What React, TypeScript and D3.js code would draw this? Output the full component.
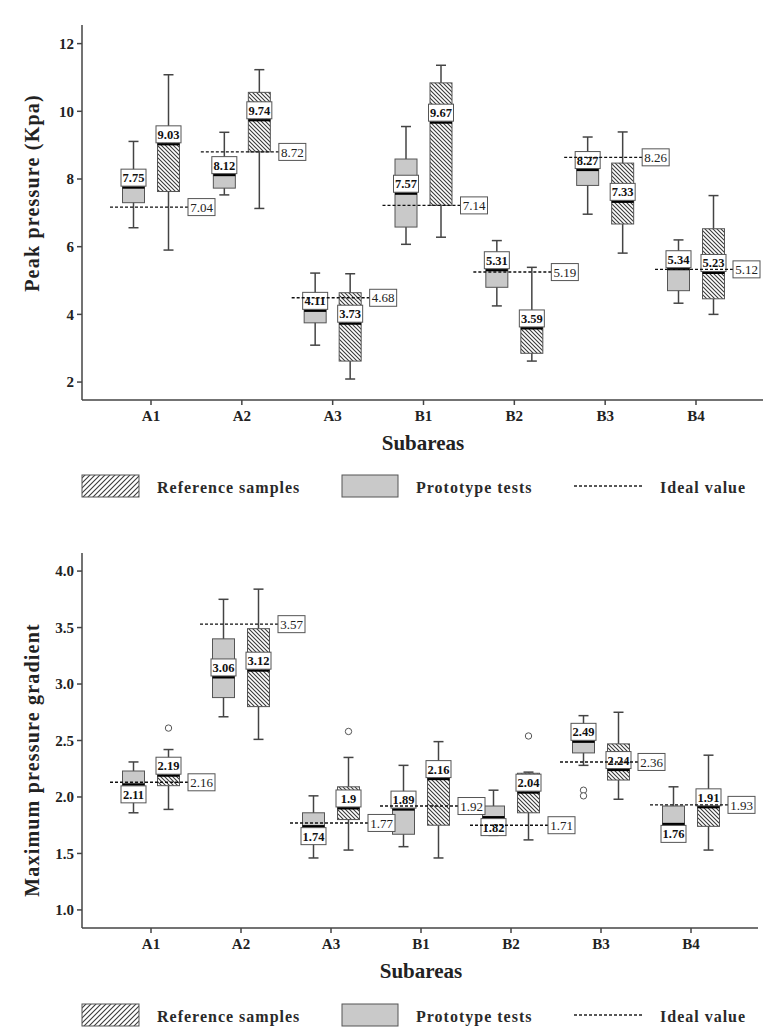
import React from "react";
import * as d3 from "d3";

const FONT = "'Liberation Serif', 'Times New Roman', Times, serif";

const categories = ["A1", "A2", "A3", "B1", "B2", "B3", "B4"];

// ---- Peak pressure (Kpa) ----
// Prototype tests (grey boxes)
const peakProtoMin = [6.56, 7.53, 3.09, 6.07, 4.25, 6.96, 4.33];
const peakProtoQ1 = [7.3, 7.73, 3.75, 6.58, 4.8, 7.81, 4.7];
const peakProtoMedian = [7.75, 8.12, 4.11, 7.57, 5.31, 8.27, 5.34];
const peakProtoQ3 = [8.25, 8.55, 4.55, 8.59, 5.7, 8.75, 5.75];
const peakProtoMax = [9.11, 9.38, 5.22, 9.55, 6.18, 9.24, 6.2];
const peakProtoOutliers: number[][] = [[], [], [], [], [], [], []];
const peakProtoLabelPos = ["above", "above", "above", "above", "above", "above", "above"];
// Reference samples (hatched boxes)
const peakRefMin = [5.9, 7.13, 2.09, 6.28, 2.62, 5.81, 4.0];
const peakRefQ1 = [7.63, 8.8, 2.62, 7.22, 2.85, 6.67, 4.46];
const peakRefMedian = [9.03, 9.74, 3.73, 9.67, 3.59, 7.33, 5.23];
const peakRefQ3 = [9.5, 10.56, 4.64, 10.84, 4.1, 8.47, 6.53];
const peakRefMax = [11.08, 11.23, 5.2, 11.36, 5.39, 9.39, 7.51];
const peakRefOutliers: number[][] = [[], [], [], [], [], [], []];
const peakRefLabelPos = ["above", "above", "above", "above", "above", "above", "above"];
// Ideal value
const peakIdealLine = [7.17, 8.8, 4.49, 7.22, 5.25, 8.64, 5.33];
const peakIdealLabel = ["7.04", "8.72", "4.68", "7.14", "5.19", "8.26", "5.12"];
const peakTicks = [2, 4, 6, 8, 10, 12];

// ---- Maximum pressure gradient ----
const gradProtoMin = [1.86, 2.71, 1.46, 1.56, 1.66, 2.28, 1.66];
const gradProtoQ1 = [2.02, 2.88, 1.68, 1.67, 1.67, 2.39, 1.7];
const gradProtoMedian = [2.11, 3.06, 1.74, 1.89, 1.82, 2.49, 1.76];
const gradProtoQ3 = [2.23, 3.4, 1.86, 2.02, 1.92, 2.6, 1.92];
const gradProtoMax = [2.31, 3.75, 2.01, 2.28, 2.06, 2.72, 2.09];
const gradProtoOutliers: number[][] = [[], [], [], [], [], [2.06, 2.01], []];
const gradProtoLabelPos = ["below", "above", "below", "above", "below", "above", "below"];
const gradRefMin = [1.89, 2.51, 1.53, 1.46, 1.62, 1.98, 1.53];
const gradRefQ1 = [2.1, 2.8, 1.8, 1.75, 1.86, 2.15, 1.74];
const gradRefMedian = [2.19, 3.12, 1.9, 2.16, 2.04, 2.24, 1.91];
const gradRefQ3 = [2.3, 3.49, 2.09, 2.3, 2.21, 2.47, 2.02];
const gradRefMax = [2.42, 3.84, 2.35, 2.49, 2.22, 2.75, 2.37];
const gradRefOutliers: number[][] = [[2.61], [], [2.58], [], [2.54], [], []];
const gradRefLabelPos = ["above", "above", "above", "above", "above", "above", "above"];
const gradIdealLine = [2.13, 3.53, 1.77, 1.92, 1.75, 2.31, 1.93];
const gradIdealLabel = ["2.16", "3.57", "1.77", "1.92", "1.71", "2.36", "1.93"];
const gradTicks = [1.0, 1.5, 2.0, 2.5, 3.0, 3.5, 4.0];

const seriesKeys = ["proto", "ref"];
const legendLabels = ["Reference samples", "Prototype tests", "Ideal value"];
const xTitle = "Subareas";

type Series = {
  min: number[];
  q1: number[];
  med: number[];
  q3: number[];
  max: number[];
  out: number[][];
  labelPos: string[];
};

type PanelProps = {
  proto: Series;
  ref: Series;
  idealLine: number[];
  idealLabel: string[];
  ticks: number[];
  tickFmt: (v: number) => string;
  yDomain: [number, number];
  yRange: [number, number];
  xRange: [number, number];
  xEnd: number;
  yTitle: string;
  yTitleY: number;
  xTitleX: number;
  tickLabelY: number;
  xTitleY: number;
  legendY: number;
};

const AXIS = "#444";
const BOX_STROKE = "#555";
const GREY = "#c9c9c9";
const X0 = 82;

function Legend({ y }: { y: number }) {
  const h = 22;
  return (
    <g>
      <rect x={82} y={y} width={57} height={h} fill="url(#hatchLegend)" stroke={BOX_STROKE} strokeWidth={1} />
      <text x={157} y={y + 17.5} fontFamily={FONT} fontWeight="bold" fontSize={16} letterSpacing={1} fill="#2a2a2a">
        {legendLabels[0]}
      </text>
      <rect x={342} y={y} width={56} height={h} fill={GREY} stroke={BOX_STROKE} strokeWidth={1} />
      <text x={416} y={y + 17.5} fontFamily={FONT} fontWeight="bold" fontSize={16} letterSpacing={1} fill="#2a2a2a">
        {legendLabels[1]}
      </text>
      <line x1={574} x2={643} y1={y + h / 2} y2={y + h / 2} stroke="#222" strokeWidth={1.3} strokeDasharray="3,2" />
      <text x={660} y={y + 17.5} fontFamily={FONT} fontWeight="bold" fontSize={16} letterSpacing={1} fill="#2a2a2a">
        {legendLabels[2]}
      </text>
    </g>
  );
}

function Panel(p: PanelProps) {
  const y = d3.scaleLinear().domain(p.yDomain).range(p.yRange);
  const x = d3.scalePoint<string>().domain(categories).range(p.xRange);
  const sub = d3.scalePoint<string>().domain(seriesKeys).range([-17.5, 17.5]);
  const bw = 22;
  const cap = 10;
  const lw = 25;
  const lh = 17;
  const bottom = p.yRange[0];
  const top = p.yRange[1];

  const seriesList: { key: string; s: Series; fill: string }[] = [
    { key: "proto", s: p.proto, fill: GREY },
    { key: "ref", s: p.ref, fill: "url(#hatchBox)" },
  ];

  return (
    <g>
      {/* axes */}
      <line x1={X0} x2={X0} y1={top} y2={bottom} stroke={AXIS} strokeWidth={1.5} />
      <line x1={X0} x2={p.xEnd} y1={bottom} y2={bottom} stroke={AXIS} strokeWidth={1.5} />
      {p.ticks.map((t) => (
        <g key={"yt" + t}>
          <line x1={X0 - 5} x2={X0} y1={y(t)} y2={y(t)} stroke={AXIS} strokeWidth={1.5} />
          <text
            x={X0 - 8}
            y={y(t)}
            dy="0.35em"
            textAnchor="end"
            fontFamily={FONT}
            fontWeight="bold"
            fontSize={15}
            fill="#222"
          >
            {p.tickFmt(t)}
          </text>
        </g>
      ))}
      {categories.map((c) => (
        <g key={"xt" + c}>
          <line x1={x(c)} x2={x(c)} y1={bottom} y2={bottom + 5} stroke={AXIS} strokeWidth={1.5} />
          <text x={x(c)} y={p.tickLabelY} textAnchor="middle" fontFamily={FONT} fontWeight="bold" fontSize={15} fill="#222">
            {c}
          </text>
        </g>
      ))}
      <text
        transform={`translate(32,${p.yTitleY}) rotate(-90)`}
        textAnchor="middle"
        dy="0.35em"
        fontFamily={FONT}
        fontWeight="bold"
        fontSize={20}
        letterSpacing={1.2}
        fill="#222"
      >
        {p.yTitle}
      </text>
      <text x={p.xTitleX} y={p.xTitleY} textAnchor="middle" fontFamily={FONT} fontWeight="bold" fontSize={21} fill="#222">
        {xTitle}
      </text>

      {/* boxes */}
      {categories.map((c, i) =>
        seriesList.map(({ key, s, fill }) => {
          const cx = (x(c) as number) + (sub(key) as number);
          return (
            <g key={"b" + c + key}>
              <line x1={cx} x2={cx} y1={y(s.max[i])} y2={y(s.min[i])} stroke={AXIS} strokeWidth={1.5} />
              <line x1={cx - cap / 2} x2={cx + cap / 2} y1={y(s.max[i])} y2={y(s.max[i])} stroke={AXIS} strokeWidth={1.5} />
              <line x1={cx - cap / 2} x2={cx + cap / 2} y1={y(s.min[i])} y2={y(s.min[i])} stroke={AXIS} strokeWidth={1.5} />
              <rect
                x={cx - bw / 2}
                y={y(s.q3[i])}
                width={bw}
                height={y(s.q1[i]) - y(s.q3[i])}
                fill={fill}
                stroke={BOX_STROKE}
                strokeWidth={1}
              />
              <line x1={cx - bw / 2} x2={cx + bw / 2} y1={y(s.med[i])} y2={y(s.med[i])} stroke="#000" strokeWidth={2.5} />
              {s.out[i].map((o, k) => (
                <circle key={k} cx={cx} cy={y(o)} r={3.2} fill="white" stroke="#555" strokeWidth={1} />
              ))}
            </g>
          );
        })
      )}

      {/* median labels */}
      {categories.map((c, i) =>
        seriesList.map(({ key, s }) => {
          const cx = (x(c) as number) + (sub(key) as number);
          const my = y(s.med[i]);
          const ry = s.labelPos[i] === "above" ? my - 1.3 - lh : my + 1.3;
          return (
            <g key={"l" + c + key}>
              <rect x={cx - lw / 2} y={ry} width={lw} height={lh} fill="white" stroke={BOX_STROKE} strokeWidth={1} />
              <text
                x={cx}
                y={ry + lh / 2}
                dy="0.36em"
                textAnchor="middle"
                fontFamily={FONT}
                fontWeight="bold"
                fontSize={12.5}
                fill="#111"
              >
                {d3.format("")(s.med[i])}
              </text>
            </g>
          );
        })
      )}

      {/* ideal values */}
      {categories.map((c, i) => {
        const cx = x(c) as number;
        const iy = y(p.idealLine[i]);
        const x1 = cx - 41;
        const x2 = cx + 37;
        return (
          <g key={"i" + c}>
            <line x1={x1} x2={x2} y1={iy} y2={iy} stroke="#111" strokeWidth={1.4} strokeDasharray="3,2" />
            <rect x={x2} y={iy - lh / 2} width={27} height={lh} fill="white" stroke={BOX_STROKE} strokeWidth={1} />
            <text x={x2 + 13.5} y={iy} dy="0.36em" textAnchor="middle" fontFamily={FONT} fontSize={13} fill="#222">
              {p.idealLabel[i]}
            </text>
          </g>
        );
      })}

      <Legend y={p.legendY} />
    </g>
  );
}

export default function App() {
  const fmtInt = d3.format("d");
  const fmt1 = d3.format(".1f");
  return (
    <div style={{ position: "absolute", left: 0, top: 0 }}>
      <svg width={778} height={1034} style={{ display: "block", background: "white" }}>
        <defs>
          <pattern id="hatchBox" patternUnits="userSpaceOnUse" width={4} height={4}>
            <rect width={4} height={4} fill="white" />
            <path d="M-1,-1 L5,5 M-1,3 L1,5 M3,-1 L5,1" stroke="#3a3a3a" strokeWidth={1.1} />
          </pattern>
          <pattern id="hatchLegend" patternUnits="userSpaceOnUse" width={5} height={5}>
            <rect width={5} height={5} fill="white" />
            <path d="M-1,6 L6,-1 M-1,1 L1,-1 M4,6 L6,4" stroke="#3a3a3a" strokeWidth={1.1} />
          </pattern>
        </defs>
        <Panel
          proto={{
            min: peakProtoMin,
            q1: peakProtoQ1,
            med: peakProtoMedian,
            q3: peakProtoQ3,
            max: peakProtoMax,
            out: peakProtoOutliers,
            labelPos: peakProtoLabelPos,
          }}
          ref={{
            min: peakRefMin,
            q1: peakRefQ1,
            med: peakRefMedian,
            q3: peakRefQ3,
            max: peakRefMax,
            out: peakRefOutliers,
            labelPos: peakRefLabelPos,
          }}
          idealLine={peakIdealLine}
          idealLabel={peakIdealLabel}
          ticks={peakTicks}
          tickFmt={fmtInt}
          yDomain={[1.47, 12.55]}
          yRange={[400, 25]}
          xRange={[151, 696]}
          xEnd={763}
          yTitle="Peak pressure (Kpa)"
          yTitleY={193}
          xTitleX={423}
          tickLabelY={421}
          xTitleY={450}
          legendY={475}
        />
        <Panel
          proto={{
            min: gradProtoMin,
            q1: gradProtoQ1,
            med: gradProtoMedian,
            q3: gradProtoQ3,
            max: gradProtoMax,
            out: gradProtoOutliers,
            labelPos: gradProtoLabelPos,
          }}
          ref={{
            min: gradRefMin,
            q1: gradRefQ1,
            med: gradRefMedian,
            q3: gradRefQ3,
            max: gradRefMax,
            out: gradRefOutliers,
            labelPos: gradRefLabelPos,
          }}
          idealLine={gradIdealLine}
          idealLabel={gradIdealLabel}
          ticks={gradTicks}
          tickFmt={fmt1}
          yDomain={[0.84, 4.16]}
          yRange={[928, 553]}
          xRange={[151, 691]}
          xEnd={758}
          yTitle="Maximum pressure gradient"
          yTitleY={760}
          xTitleX={421}
          tickLabelY={949}
          xTitleY={978}
          legendY={1004}
        />
      </svg>
    </div>
  );
}
